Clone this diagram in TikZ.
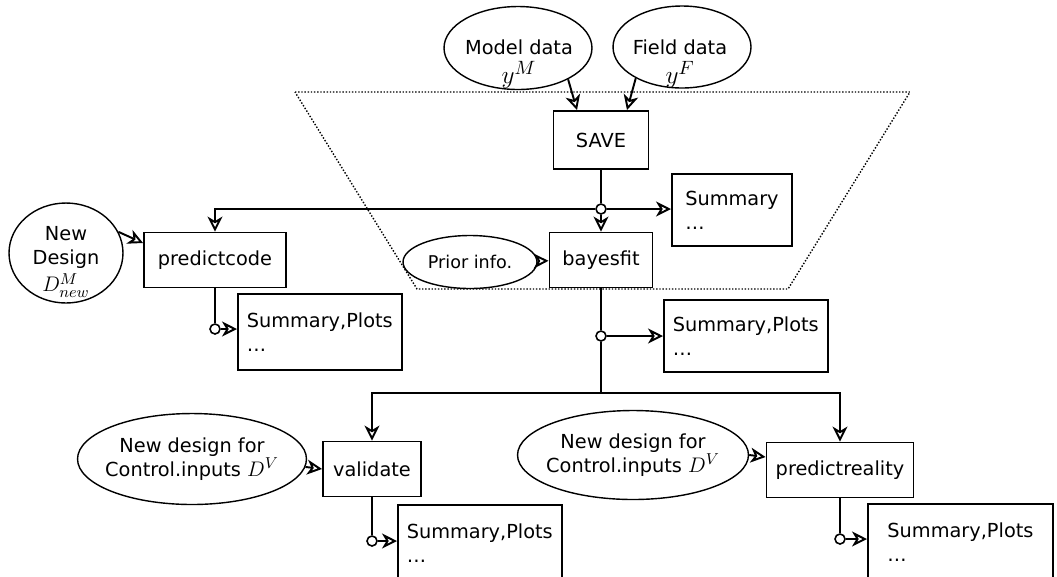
\documentclass[tikz,border=0pt]{standalone}
\usepackage{fontspec}
\setmainfont{DejaVu Sans}
\usetikzlibrary{shapes.geometric,arrows.meta}

\newcommand{\bigmath}[1]{{\fontsize{15}{15}\selectfont$#1$}}
\newcommand{\midmath}[1]{{\fontsize{12.5}{13}\selectfont$#1$}}

\begin{document}
\begin{tikzpicture}[x=0.02cm,y=-0.02cm,
    font=\fontsize{11}{13.5}\selectfont,
    >={Stealth[open,length=8.5pt,width=8.5pt,inset=2.5pt]},
    proc/.style={draw,line width=1.1pt,rectangle,minimum height=1.1cm},
    outbox/.style={draw,line width=1.1pt,rectangle,anchor=north west,align=left,inner xsep=5pt},
    datum/.style={draw,line width=0.8pt,ellipse,inner sep=0pt,align=center},
    tap/.style={draw,line width=0.9pt,circle,fill=white,inner sep=0pt,minimum size=0.2cm},
    flow/.style={line width=1.1pt}]
        \useasboundingbox (0,0) rectangle (1057,576);
        %% calibration stage
        \draw[densely dotted,line width=0.8pt] (295,92) -- (910,92) -- (788,289) -- (417,289) -- cycle;
        \node[datum,minimum width=2.96cm,minimum height=1.66cm] (md) at (518,48) {};
        \node[align=center,inner sep=0pt] (mdtext) at (519,64) {Model data\\[3pt]\bigmath{y^M}};
        \node[datum,minimum width=2.76cm,minimum height=1.64cm] (fd) at (682,47) {};
        \node[align=center,inner sep=0pt] (fdtext) at (680,64) {Field data\\[3pt]\bigmath{y^F}};
        \node[proc,minimum width=1.9cm,minimum height=1.16cm] (save) at (601,140) {SAVE};
        \node[proc,minimum width=2.06cm] (bf) at (601,260) {bayesfit};
        \node[datum,minimum width=2.68cm,minimum height=1.06cm,font=\fontsize{10}{12}\selectfont] (prior) at (470,262) {Prior info.};
        \node[outbox,minimum width=2.4cm,minimum height=1.44cm] (sum0) at (671,173) {Summary\\\ldots};
        \node[tap] (j0) at (601,209) {};
        \draw[flow,->] (md.-32) -- ([xshift=-0.48cm]save.north);
        \draw[flow,->] (fd.-146) -- ([xshift=0.52cm]save.north);
        \draw[flow] (save) -- (j0);
        \draw[flow,->] (j0) -- (bf);
        \draw[flow,->] (j0) -- (j0 -| sum0.west);
        \draw[flow,->] (prior) -- (bf);
        %% emulator prediction
        \node[proc,minimum width=2.84cm] (pc) at (215,260) {predictcode};
        \node[datum,minimum width=2.28cm,minimum height=2cm] (nd) at (66,253) {};
        \node[align=center,inner sep=0pt] (ndtext) at (66,262) {New\\Design\\[2pt]\midmath{D^M_{new}}};
        \node[outbox,minimum width=2.96cm,minimum height=1.52cm] (sum1) at (237,293) {Summary,Plots\\\ldots};
        \node[tap] (j1) at (215,329) {};
        \draw[flow,->] (j0) -- (j0 -| pc.north) -- (pc.north);
        \draw[flow,->] (nd.22) -- ([yshift=0.34cm]pc.west);
        \draw[flow] (pc) -- (j1);
        \draw[flow,->] (j1) -- (j1 -| sum1.west);
        %% posterior summary
        \node[outbox,minimum width=2.86cm,minimum height=1.44cm] (sum2) at (663,299) {Summary,Plots\\\ldots};
        \node[tap] (j2) at (601,336) {};
        \coordinate (split) at (601,393);
        \draw[flow] (bf) -- (j2);
        \draw[flow,->] (j2) -- (j2 -| sum2.west);
        %% validation and prediction
        \node[proc,minimum width=1.96cm] (val) at (372,469) {validate};
        \node[proc,minimum width=2.94cm] (pr) at (840,470) {predictreality};
        \node[datum,inner xsep=-5pt,minimum width=4.58cm,minimum height=1.82cm] (nv) at (192,459) {New design for\\Control.inputs \midmath{D^V}};
        \node[datum,inner xsep=-5pt,minimum width=4.62cm,minimum height=1.78cm] (nr) at (633,455) {New design for\\Control.inputs \midmath{D^V}};
        \node[outbox,minimum width=3.24cm,minimum height=1.52cm] (sum3) at (397,504) {Summary,Plots\\\ldots};
        \node[outbox,minimum width=3.7cm,minimum height=1.52cm] (sum4) at (867,503) {Summary,Plots\\\ldots};
        \node[tap] (j3) at (372,541) {};
        \node[tap] (j4) at (840,539) {};
        \draw[flow] (j2) -- (split);
        \draw[flow,->] (split) -- (split -| val.north) -- (val.north);
        \draw[flow,->] (split) -- (split -| pr.north) -- (pr.north);
        \draw[flow,->] (nv.-4) -- (val.west);
        \draw[flow,->] (nr.east) -- ([yshift=0.26cm]pr.west);
        \draw[flow] (val) -- (j3);
        \draw[flow,->] (j3) -- (j3 -| sum3.west);
        \draw[flow] (pr) -- (j4);
        \draw[flow,->] (j4) -- (j4 -| sum4.west);
\end{tikzpicture}
\end{document}
